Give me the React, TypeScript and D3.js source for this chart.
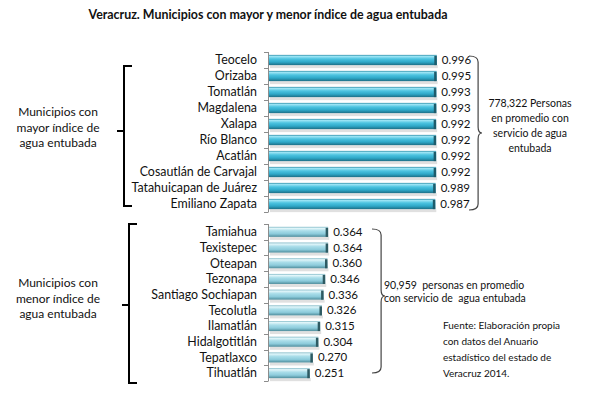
import * as d3 from "d3";
import { useEffect, useRef } from "react";

const width = 589;
const height = 398;
const font = "Lato, 'Open Sans', sans-serif";

const topNames = [
  "Teocelo",
  "Orizaba",
  "Tomatlán",
  "Magdalena",
  "Xalapa",
  "Río Blanco",
  "Acatlán",
  "Cosautlán de Carvajal",
  "Tatahuicapan de Juárez",
  "Emiliano Zapata",
];
const topValues = [0.996, 0.995, 0.993, 0.993, 0.992, 0.992, 0.992, 0.992, 0.989, 0.987];

const lowNames = [
  "Tamiahua",
  "Texistepec",
  "Oteapan",
  "Tezonapa",
  "Santiago Sochiapan",
  "Tecolutla",
  "Ilamatlán",
  "Hidalgotitlán",
  "Tepatlaxco",
  "Tihuatlán",
];
const lowValues = [0.364, 0.364, 0.36, 0.346, 0.336, 0.326, 0.315, 0.304, 0.27, 0.251];

const leftTop = ["Municipios con", "mayor índice de", "agua entubada"];
const leftLow = ["Municipios con", "menor índice de", "agua entubada"];
const rightTop = ["778,322 Personas", "en promedio con", "servicio de agua", "entubada"];
const rightLow = ["90,959  personas en promedio", "con servicio de  agua entubada"];
const source = ["Fuente: Elaboración propia", "con datos del Anuario", "estadístico del estado de", "Veracruz 2014."];

const App = () => {
  const ref = useRef<SVGSVGElement | null>(null);

  useEffect(() => {
    if (!ref.current) return;
    const svg = d3.select(ref.current);
    svg.selectAll("*").remove();

    const defs = svg.append("defs");
    const grad = (id: string, stops: [number, string][]) => {
      const g = defs
        .append("linearGradient")
        .attr("id", id)
        .attr("x1", 0)
        .attr("y1", 0)
        .attr("x2", 0)
        .attr("y2", 1);
      stops.forEach(([o, c]) => g.append("stop").attr("offset", o).attr("stop-color", c));
    };
    grad("gTop", [
      [0, "#2f8fa8"],
      [0.15, "#9be4f4"],
      [0.4, "#4cc3e0"],
      [0.7, "#2ea8c8"],
      [1, "#1d6f86"],
    ]);
    grad("gLow", [
      [0, "#7fb8c6"],
      [0.15, "#e2f6fa"],
      [0.4, "#a9dde9"],
      [0.7, "#8ccbdb"],
      [1, "#4f8d9c"],
    ]);

    svg
      .append("text")
      .attr("x", 268)
      .attr("y", 19)
      .attr("text-anchor", "middle")
      .attr("font-family", font)
      .attr("font-weight", "bold")
      .attr("font-size", 12.4)
      .attr("fill", "#111")
      .text("Veracruz. Municipios con mayor y menor índice de agua entubada");

    const drawChart = (
      names: string[],
      values: number[],
      yRange: [number, number],
      xMax: number,
      xPix: number,
      fill: string,
      cap: string
    ) => {
      const y = d3.scaleBand<string>().domain(names).range(yRange).paddingInner(0.36).paddingOuter(0.18);
      const x = d3.scaleLinear().domain([0, xMax]).range([269, 269 + xPix]);
      const g = svg.append("g");

      // axis line and ticks at band boundaries
      g.append("line")
        .attr("x1", 268.5)
        .attr("x2", 268.5)
        .attr("y1", yRange[0])
        .attr("y2", yRange[1])
        .attr("stroke", "#8c8c8c");
      const step = y.step();
      const start = y(names[0])! - (step * y.paddingInner()) / 2;
      d3.range(names.length + 1).forEach((i) => {
        const yy = Math.round(start + i * step) + 0.5;
        g.append("line")
          .attr("x1", 264)
          .attr("x2", 268.5)
          .attr("y1", yy)
          .attr("y2", yy)
          .attr("stroke", "#8c8c8c");
      });

      names.forEach((n, i) => {
        const by = y(n)!;
        const bh = y.bandwidth();
        const bx = x(0);
        const bw = x(values[i]) - x(0);
        // shadow
        g.append("rect")
          .attr("x", bx + 1)
          .attr("y", by + bh)
          .attr("width", bw)
          .attr("height", 3)
          .attr("fill", "#d8d8d8")
          .attr("opacity", 0.8);
        g.append("rect")
          .attr("x", bx)
          .attr("y", by)
          .attr("width", bw)
          .attr("height", bh)
          .attr("fill", `url(#${fill})`);
        g.append("rect")
          .attr("x", bx + bw - 2.5)
          .attr("y", by + 1)
          .attr("width", 2.5)
          .attr("height", bh - 1)
          .attr("fill", cap);

        g.append("text")
          .attr("x", 257)
          .attr("y", by + bh / 2)
          .attr("dy", "0.35em")
          .attr("text-anchor", "end")
          .attr("font-family", font)
          .attr("font-size", 12.4)
          .attr("fill", "#111")
          .text(n);

        g.append("text")
          .attr("x", bx + bw + 5)
          .attr("y", by + bh / 2)
          .attr("dy", "0.35em")
          .attr("font-family", font)
          .attr("font-size", 11.5)
          .attr("fill", "#111")
          .text(d3.format(".3f")(values[i]));
      });
    };

    drawChart(topNames, topValues, [52, 212], 1, 168.5, "gTop", "#1e5c6c");
    drawChart(lowNames, lowValues, [224, 381], 0.4, 65, "gLow", "#2e5a62");

    // left square brackets
    const leftBracket = (xv: number, y0: number, y1: number, ym: number) => {
      svg
        .append("path")
        .attr("d", `M${xv + 8},${y0} H${xv} V${y1} H${xv + 8} M${xv},${ym} H${xv - 7}`)
        .attr("fill", "none")
        .attr("stroke", "#000")
        .attr("stroke-width", 2);
    };
    leftBracket(124, 66, 206, 131);
    leftBracket(129, 224, 383, 305);

    // right curly braces
    const brace = (x0: number, y0: number, y1: number, ym: number, w: number) => {
      const xv = x0 + w * 0.7;
      const r = 6;
      svg
        .append("path")
        .attr(
          "d",
          `M${x0},${y0} Q${xv},${y0} ${xv},${y0 + r} V${ym - r} Q${xv},${ym} ${x0 + w},${ym}` +
            ` Q${xv},${ym} ${xv},${ym + r} V${y1 - r} Q${xv},${y1} ${x0},${y1}`
        )
        .attr("fill", "none")
        .attr("stroke", "#444")
        .attr("stroke-width", 1.2);
    };
    brace(469, 56, 210, 133, 13);
    brace(372, 229, 373, 296, 13);

    const textBlock = (
      lines: string[],
      x: number,
      y0: number,
      dy: number,
      anchor: string,
      size: number
    ) => {
      const t = svg
        .append("text")
        .attr("font-family", font)
        .attr("font-size", size)
        .attr("fill", "#111")
        .attr("text-anchor", anchor)
        .attr("xml:space", "preserve");
      lines.forEach((l, i) => {
        t.append("tspan").attr("x", x).attr("y", y0 + i * dy).text(l);
      });
    };
    textBlock(leftTop, 58, 116, 15.5, "middle", 12);
    textBlock(leftLow, 58, 287, 15.5, "middle", 12);
    textBlock(rightTop, 530, 107, 15, "middle", 10.5);
    textBlock(rightLow, 384, 289, 13, "start", 10.5);
    textBlock(source, 443, 329, 16, "start", 10);
  }, []);

  return (
    <div style={{ margin: -8 }}>
      <svg ref={ref} width={width} height={height} style={{ display: "block", background: "#fff" }} />
    </div>
  );
};

export default App;
